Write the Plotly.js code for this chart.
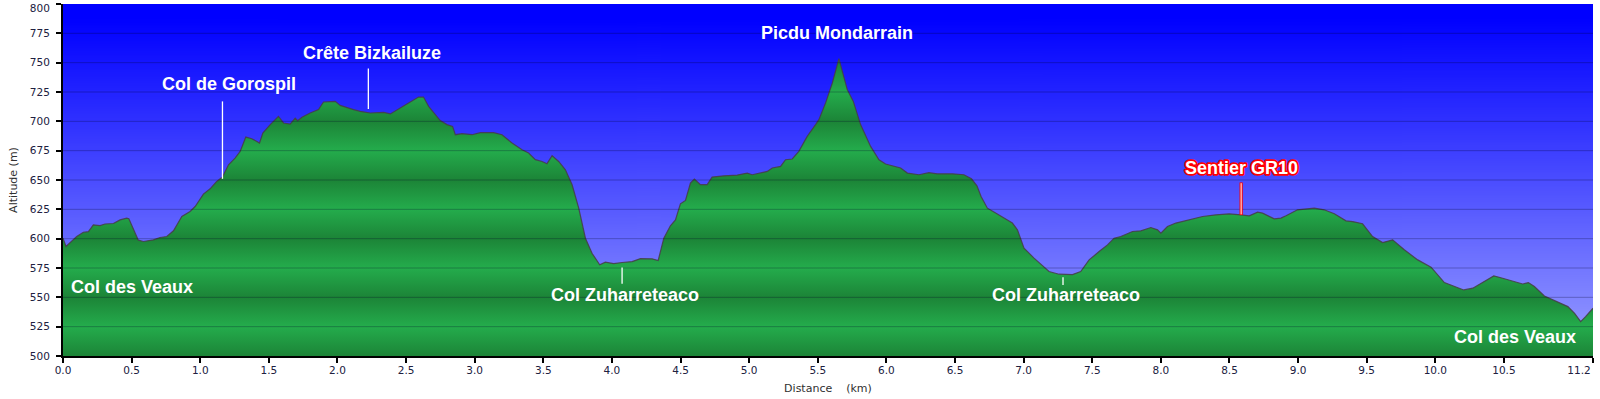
<!DOCTYPE html>
<html><head><meta charset="utf-8">
<script src="https://cdn.plot.ly/plotly-3.0.1.min.js"></script>
<style>html,body{margin:0;padding:0;background:#fff;overflow:hidden}#chart{width:1600px;height:399px}</style>
</head><body><div id="chart"></div>
<script>
// ---- data ----
const distanceKm = [0.000,0.022,0.100,0.148,0.185,0.221,0.270,0.306,0.367,0.416,0.464,0.480,0.549,0.586,0.659,0.707,0.756,0.805,0.866,0.926,0.963,1.023,1.072,1.120,1.162,1.206,1.254,1.291,1.332,1.376,1.432,1.456,1.510,1.570,1.607,1.655,1.692,1.710,1.741,1.801,1.862,1.898,1.984,2.020,2.117,2.166,2.239,2.300,2.336,2.385,2.445,2.518,2.591,2.627,2.664,2.713,2.749,2.798,2.839,2.859,2.907,2.980,3.041,3.138,3.199,3.272,3.345,3.393,3.442,3.491,3.527,3.564,3.612,3.661,3.710,3.758,3.807,3.855,3.911,3.952,4.013,4.074,4.147,4.208,4.293,4.337,4.378,4.426,4.463,4.499,4.536,4.572,4.601,4.645,4.694,4.730,4.815,4.913,4.986,5.022,5.080,5.132,5.168,5.229,5.265,5.314,5.362,5.423,5.484,5.508,5.557,5.606,5.654,5.715,5.759,5.812,5.885,5.946,5.994,6.104,6.153,6.237,6.310,6.371,6.481,6.565,6.620,6.660,6.690,6.736,6.796,6.881,6.918,6.955,7.003,7.076,7.137,7.185,7.258,7.356,7.416,7.477,7.550,7.611,7.659,7.708,7.793,7.854,7.927,7.976,8.000,8.048,8.109,8.206,8.304,8.401,8.498,8.583,8.644,8.705,8.741,8.826,8.875,8.912,8.996,9.118,9.190,9.264,9.349,9.398,9.470,9.543,9.616,9.689,9.774,9.872,9.969,10.066,10.139,10.207,10.273,10.333,10.426,10.491,10.576,10.637,10.678,10.722,10.795,10.893,10.966,11.015,11.059,11.095,11.149];
const altitudeM = [600.5,593.3,601.8,605.5,606.0,611.8,611.2,612.5,612.9,616.0,617.5,617.0,598.7,597.6,599.0,601.0,601.8,606.7,618.9,623.2,627.4,638.0,642.5,648.8,652.5,663.0,668.7,674.4,686.6,685.2,681.5,690.0,697.2,704.2,698.6,697.7,702.8,700.5,703.4,707.1,710.0,716.5,717.0,713.6,710.0,708.5,707.1,707.3,707.7,706.3,710.8,715.6,720.7,720.7,712.8,706.3,700.6,697.2,695.7,688.6,689.5,688.6,690.3,690.3,688.6,681.5,675.8,673.0,667.3,665.8,663.9,670.7,665.8,658.7,645.9,626.0,600.4,587.6,577.7,580.0,578.8,579.7,580.5,583.0,582.8,581.4,600.4,611.0,616.0,629.7,632.6,647.4,650.8,646.0,646.0,652.5,653.6,654.2,655.9,654.5,656.0,657.3,660.2,661.6,667.3,667.9,674.4,687.2,697.2,701.4,715.7,732.7,753.5,727.0,717.0,697.2,678.6,667.3,663.6,660.2,655.9,654.5,656.2,655.3,655.3,654.5,651.0,645.0,636.0,626.0,621.8,616.0,613.3,607.5,591.9,583.4,576.8,572.0,569.7,569.4,572.0,581.9,589.0,594.7,600.4,601.8,606.1,606.7,609.5,607.5,604.7,610.4,613.3,616.0,618.9,620.3,621.2,620.3,619.5,622.6,621.8,616.9,617.5,619.5,624.6,626.0,624.6,621.2,615.2,614.6,612.7,601.8,596.7,599.0,590.5,581.9,575.7,562.6,559.2,556.3,557.8,562.0,568.3,566.3,563.4,561.4,562.6,559.2,551.2,546.3,542.1,536.4,529.3,533.5,540.7];

const yTickVals = [500,525,550,575,600,625,650,675,700,725,750,775,800];
const xTickVals = [0,0.5,1,1.5,2,2.5,3,3.5,4,4.5,5,5.5,6,6.5,7,7.5,8,8.5,9,9.5,10,10.5,11.149];
const xTickText = ['0.0','0.5','1.0','1.5','2.0','2.5','3.0','3.5','4.0','4.5','5.0','5.5','6.0','6.5','7.0','7.5','8.0','8.5','9.0','9.5','10.0','10.5','11.2'];

const labelText = ['Col des Veaux','Col de Gorospil','Crête Bizkailuze','Col Zuharreteaco','Picdu Mondarrain','Col Zuharreteaco','Sentier GR10','Col des Veaux'];
const labelKm   = [0.047,1.210,2.253,4.095,5.637,7.306,8.589,11.040];
const labelAlt  = [558.7,731.5,758.5,551.6,775.0,551.6,660.6,515.9];
const labelAnchor = ['left','center','center','center','center','center','center','right'];

const pointerKm   = [1.162,2.225,4.074,7.287,8.585];
const pointerFrom = [651.0,710.5,575.5,567.2,620.1];
const pointerTo   = [717.0,745.0,561.5,560.6,647.9];
const pointerKind = ['white','white','white','white','gr10'];

// ---- background gradient image ----
function skyImage(){
  const c = document.createElement('canvas'); c.width = 4; c.height = 400;
  const g = c.getContext('2d');
  const grd = g.createLinearGradient(0,0,0,400);
  grd.addColorStop(0,'rgb(0,0,255)');
  grd.addColorStop(0.04,'rgb(0,0,255)');
  grd.addColorStop(1,'rgb(155,160,255)');
  g.fillStyle = grd; g.fillRect(0,0,4,400);
  return c.toDataURL('image/png');
}

// green banded fill gradient
const yMin = yTickVals[0], yMax = yTickVals[yTickVals.length-1];
const greenScale = yTickVals.map((v,i)=>[(v-yMin)/(yMax-yMin), i%2===0 ? 'rgb(28,132,55)' : 'rgb(36,172,76)']);

const profile = {
  x: distanceKm, y: altitudeM, type:'scatter', mode:'lines',
  fill:'tozeroy',
  fillgradient:{type:'vertical', start:yMin, stop:yMax, colorscale:greenScale},
  line:{color:'rgba(70,60,70,0.85)', width:1.2},
  hoverinfo:'skip', showlegend:false
};

const shapes = [];
yTickVals.slice(1,-1).forEach(v=>{
  shapes.push({type:'line', xref:'paper', yref:'y', x0:0, x1:1, y0:v, y1:v, layer:'above',
    line:{color:'rgba(0,0,40,0.28)', width:1}});
});
pointerKm.forEach((k,i)=>{
  if(pointerKind[i]==='gr10'){
    shapes.push({type:'line', xref:'x', yref:'y', x0:k, x1:k, y0:pointerFrom[i], y1:pointerTo[i], layer:'above', line:{color:'#ff0000', width:3.2}});
    shapes.push({type:'line', xref:'x', yref:'y', x0:k, x1:k, y0:pointerFrom[i]+0.6, y1:pointerTo[i]-0.6, layer:'above', line:{color:'#ffffff', width:1}});
  } else {
    shapes.push({type:'line', xref:'x', yref:'y', x0:k, x1:k, y0:pointerFrom[i], y1:pointerTo[i], layer:'above', line:{color:'#ffffff', width:1.3}});
  }
});

const annotations = labelText.map((t,i)=>({
  x: labelKm[i], y: labelAlt[i], xref:'x', yref:'y', text:t, showarrow:false,
  xanchor: labelAnchor[i], yanchor:'middle',
  font:{family:'Liberation Sans, Arial, sans-serif', size:18, color:'#ffffff', weight:'bold'}
}));

const tickFont = {family:'DejaVu Sans, Verdana, sans-serif', size:10.5, color:'#202040'};
const titleFont = {family:'DejaVu Sans, Verdana, sans-serif', size:11, color:'#303030'};
const layout = {
  width:1600, height:399,
  margin:{l:63, r:7, t:4, b:43, pad:0},
  paper_bgcolor:'#ffffff', plot_bgcolor:'rgba(0,0,0,0)',
  showlegend:false,
  xaxis:{range:[0, xTickVals[xTickVals.length-1]], tickmode:'array', tickvals:xTickVals, ticktext:xTickText,
    showgrid:false, zeroline:false, showline:true, linecolor:'#000', linewidth:2,
    ticks:'outside', ticklen:5, tickwidth:2, tickcolor:'#000', tickfont:tickFont, ticklabelstandoff:-2,
    ticklabeloverflow:'allow',
    title:{text:'Distance&nbsp;&nbsp;&nbsp;&nbsp;(km)', font:titleFont, standoff:10},
    fixedrange:true},
  yaxis:{range:[yMin,yMax], tickmode:'array', tickvals:yTickVals,
    showgrid:false, zeroline:false, showline:true, linecolor:'#000', linewidth:2,
    ticks:'outside', ticklen:5, tickwidth:2, tickcolor:'#000', tickfont:tickFont, ticklabelstandoff:4,
    ticklabeloverflow:'allow',
    title:{text:'Altitude (m)', font:titleFont, standoff:10},
    fixedrange:true},
  images:[{source:skyImage(), xref:'paper', yref:'paper', x:0, y:1, sizex:1, sizey:1,
    xanchor:'left', yanchor:'top', sizing:'stretch', layer:'below'}],
  shapes: shapes,
  annotations: annotations
};

// nudge the two edge tick labels inward, as in the reference
function nudge(selector, label, dx, dy){
  document.querySelectorAll(selector).forEach(el=>{
    if(el.textContent===label){
      const cur = el.getAttribute('transform') || '';
      el.setAttribute('transform', cur + ' translate(' + dx + ',' + dy + ')');
    }
  });
}

Plotly.newPlot('chart', [profile], layout, {displayModeBar:false, staticPlot:true}).then(()=>{
  document.querySelectorAll('.annotation-text').forEach(el=>{
    if(el.textContent==='Sentier GR10'){
      el.style.stroke='#ff0000'; el.style.strokeWidth='3.4px';
      el.style.paintOrder='stroke'; el.style.strokeLinejoin='round';
    }
  });
  nudge('.xtick text', xTickText[xTickText.length-1], -14, 0);
  nudge('.ytick text', String(yTickVals[yTickVals.length-1]), 0, 4);
});
</script></body></html>
